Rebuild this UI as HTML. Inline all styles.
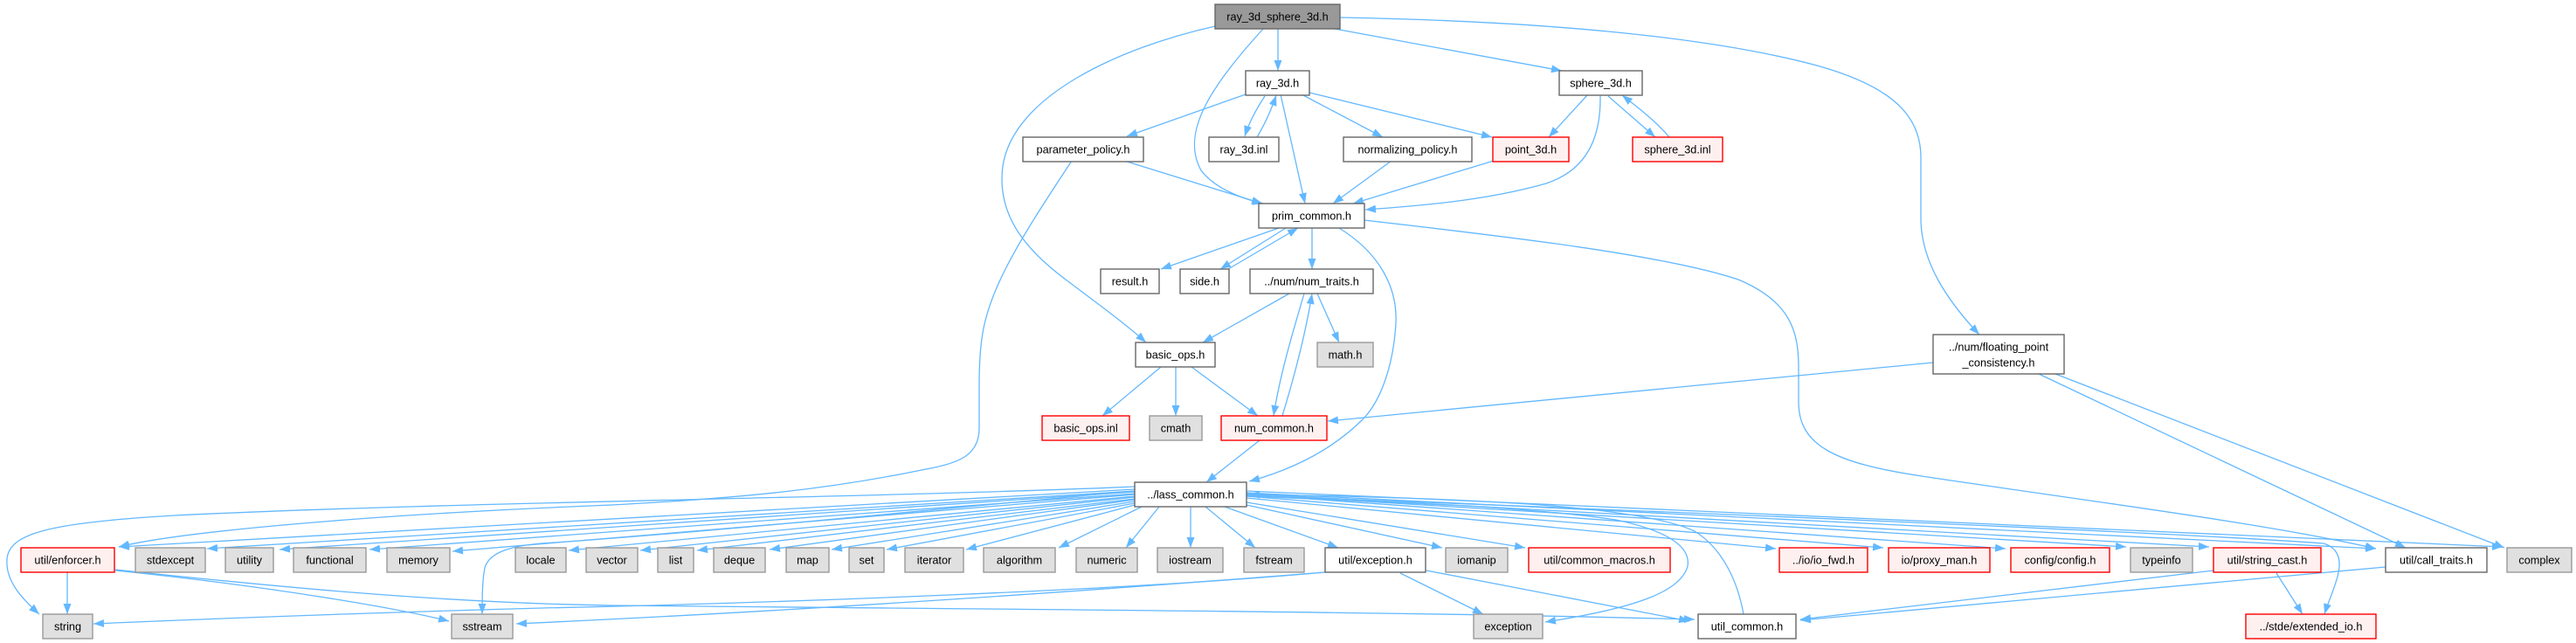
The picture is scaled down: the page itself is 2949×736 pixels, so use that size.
<!DOCTYPE html>
<html><head><meta charset="utf-8"><style>
html,body{margin:0;padding:0;background:#fff;}
svg{display:block;}
text{font-family:"Liberation Sans",Arial,sans-serif;font-size:12.7px;fill:#000;text-anchor:middle;}
.w{fill:#fff;stroke:#666;stroke-width:1.4}
.g{fill:#e0e0e0;stroke:#999;stroke-width:1.4}
.r{fill:#fff0f0;stroke:#f00;stroke-width:1.4}
.d{fill:#999;stroke:#666;stroke-width:1.4}
.e path{fill:none;stroke:#63b8ff;stroke-width:1.3;marker-end:url(#a)}
</style></head><body>
<svg width="2949" height="736" viewBox="0 0 2949 736" xmlns="http://www.w3.org/2000/svg">
<defs><marker id="a" markerWidth="13" markerHeight="10" refX="12" refY="5" orient="auto" markerUnits="userSpaceOnUse"><path d="M0,0.5 L12,5 L0,9.5 z" fill="#63b8ff"/></marker></defs>
<g class="e">
<path d="M1463,33 L1463,81"/>
<path d="M1528,33 L1788,81"/>
<path d="M1446,33 C1390,95 1350,150 1375,195 C1390,215 1420,227 1446,233"/>
<path d="M1391,30 C1280,55 1160,110 1148,190 C1140,250 1180,290 1220,320 C1260,350 1290,372 1312,392"/>
<path d="M1534,20 C1750,24 1950,40 2080,75 C2170,100 2199,135 2199,180 L2199,250 C2199,300 2230,345 2266,383"/>
<path d="M1426,108 L1290,156"/>
<path d="M1448,110 C1438,125 1430,140 1425,156"/>
<path d="M1439,157 C1448,142 1455,127 1461,109"/>
<path d="M1466,108 L1494,233"/>
<path d="M1490,108 L1583,157"/>
<path d="M1499,106 L1708,157"/>
<path d="M1817,109 L1773,157"/>
<path d="M1832,109 C1833,160 1815,195 1770,210 C1700,230 1620,236 1563,240"/>
<path d="M1841,110 L1895,157"/>
<path d="M1911,157 C1895,138 1875,123 1857,109"/>
<path d="M1287,184 L1445,233"/>
<path d="M1227,184 C1200,225 1170,270 1150,310 C1125,360 1121,390 1121,440 L1121,490 C1121,520 1100,530 1060,537 C950,560 850,570 700,578 C400,590 200,610 136,626"/>
<path d="M1593,184 L1526,233"/>
<path d="M1710,184 L1549,233"/>
<path d="M1464,261 L1329,308"/>
<path d="M1472,261 L1397,308"/>
<path d="M1406,308 L1486,261"/>
<path d="M1502,261 L1502,308"/>
<path d="M1533,261 C1580,290 1600,330 1598,370 C1595,420 1580,460 1560,480 C1520,520 1470,540 1430,551"/>
<path d="M1562,252 C1700,268 1900,290 1990,320 C2050,345 2059,380 2059,420 L2059,460 C2059,510 2100,530 2200,545 C2400,575 2600,600 2720,628"/>
<path d="M1476,336 L1377,392"/>
<path d="M1493,336 C1480,380 1465,430 1458,476"/>
<path d="M1468,476 C1482,430 1495,380 1502,336"/>
<path d="M1508,336 L1533,392"/>
<path d="M1329,420 L1262,476"/>
<path d="M1346,420 L1346,476"/>
<path d="M1364,420 L1440,476"/>
<path d="M2213,415 L1520,482"/>
<path d="M2334,428 L2754,627"/>
<path d="M2353,428 L2867,627"/>
<path d="M1442,504 L1381,552"/>
<path d="M1327,580 L1289,627"/>
<path d="M1363,580 L1363,627"/>
<path d="M1380,580 L1437,627"/>
<path d="M1402,580 L1532,627"/>
<path d="M1427,578 L1651,627"/>
<path d="M1427,575 L1746,627"/>
<path d="M1307,580 L1212,627"/>
<path d="M1299,578 L1106,629"/>
<path d="M1299,576 L1015,629"/>
<path d="M1299,574 L952,629"/>
<path d="M1299,572 L881,629"/>
<path d="M1299,571 L798,630"/>
<path d="M1299,569 L733,630"/>
<path d="M1299,568 L651,630"/>
<path d="M1299,566 L518,631"/>
<path d="M1299,565 L423,629"/>
<path d="M1299,563 L320,629"/>
<path d="M1299,562 L237,628"/>
<path d="M1299,560 L136,626"/>
<path d="M1299,557 C1000,570 500,575 200,590 C60,598 10,610 8,640 C6,665 25,685 45,703"/>
<path d="M1299,562 C1050,585 800,610 620,622 C585,625 560,632 555,650 C552,665 552,685 552,703"/>
<path d="M1427,568 C1600,575 1750,580 1850,595 C1920,610 1935,630 1932,648 C1925,675 1880,695 1769,712"/>
<path d="M1427,570 L2033,628"/>
<path d="M1427,568 L2156,627"/>
<path d="M1427,566 L2296,628"/>
<path d="M1427,566 L2434,626"/>
<path d="M1427,565 L2529,626"/>
<path d="M1427,564 L2720,628"/>
<path d="M1427,562 L2865,626"/>
<path d="M1427,567 C1900,585 2500,610 2660,622 C2680,628 2680,645 2676,660 C2672,675 2665,690 2661,703"/>
<path d="M1996,703 C1990,670 1975,630 1940,608 C1880,580 1700,570 1430,566"/>
<path d="M77,655 L77,703"/>
<path d="M132,653 C300,670 450,695 514,711"/>
<path d="M132,652 C300,670 500,690 700,693 C1200,698 1600,700 1940,709"/>
<path d="M1517,655 C1300,675 900,690 620,696 C400,702 200,710 107,714"/>
<path d="M1517,655 C1200,680 900,700 591,714"/>
<path d="M1603,656 L1698,703"/>
<path d="M1633,653 L1934,711"/>
<path d="M2606,656 L2636,703"/>
<path d="M2534,653 L2061,709"/>
<path d="M2731,649 L2061,710"/>
</g>
<!-- nodes -->
<rect class="d" x="1391" y="5" width="143" height="28"/><text x="1462.5" y="23.5">ray_3d_sphere_3d.h</text>
<rect class="w" x="1426" y="81" width="73" height="28"/><text x="1462.5" y="99.5">ray_3d.h</text>
<rect class="w" x="1785" y="81" width="95" height="28"/><text x="1832.5" y="99.5">sphere_3d.h</text>
<rect class="w" x="1171" y="157" width="138" height="28"/><text x="1240" y="175.5">parameter_policy.h</text>
<rect class="w" x="1384" y="157" width="80" height="28"/><text x="1424" y="175.5">ray_3d.inl</text>
<rect class="w" x="1538" y="157" width="147" height="28"/><text x="1611.5" y="175.5">normalizing_policy.h</text>
<rect class="r" x="1709" y="157" width="87" height="28"/><text x="1752.5" y="175.5">point_3d.h</text>
<rect class="r" x="1869" y="157" width="103" height="28"/><text x="1920.5" y="175.5">sphere_3d.inl</text>
<rect class="w" x="1441" y="233" width="121" height="28"/><text x="1501.5" y="251.5">prim_common.h</text>
<rect class="w" x="1260" y="308" width="67" height="28"/><text x="1293.5" y="326.5">result.h</text>
<rect class="w" x="1351" y="308" width="56" height="28"/><text x="1379" y="326.5">side.h</text>
<rect class="w" x="1431" y="308" width="141" height="28"/><text x="1501.5" y="326.5">../num/num_traits.h</text>
<rect class="w" x="1300" y="392" width="91" height="28"/><text x="1345.5" y="410.5">basic_ops.h</text>
<rect class="g" x="1508" y="392" width="64" height="28"/><text x="1540" y="410.5">math.h</text>
<rect class="w" x="2213" y="383" width="150" height="45"/><text x="2288" y="401.5">../num/floating_point</text><text x="2288" y="419.5">_consistency.h</text>
<rect class="r" x="1193" y="476" width="100" height="28"/><text x="1243" y="494.5">basic_ops.inl</text>
<rect class="g" x="1316" y="476" width="60" height="28"/><text x="1346" y="494.5">cmath</text>
<rect class="r" x="1398" y="476" width="121" height="28"/><text x="1458.5" y="494.5">num_common.h</text>
<rect class="w" x="1299" y="552" width="128" height="28"/><text x="1363" y="570.5">../lass_common.h</text>
<!-- row 9 -->
<rect class="r" x="24" y="627" width="107" height="28"/><text x="77.5" y="645.5">util/enforcer.h</text>
<rect class="g" x="155" y="627" width="80" height="28"/><text x="195" y="645.5">stdexcept</text>
<rect class="g" x="258" y="627" width="55" height="28"/><text x="285.5" y="645.5">utility</text>
<rect class="g" x="336" y="627" width="83" height="28"/><text x="377.5" y="645.5">functional</text>
<rect class="g" x="443" y="627" width="72" height="28"/><text x="479" y="645.5">memory</text>
<rect class="g" x="590" y="627" width="58" height="28"/><text x="619" y="645.5">locale</text>
<rect class="g" x="671" y="627" width="59" height="28"/><text x="700.5" y="645.5">vector</text>
<rect class="g" x="753" y="627" width="41" height="28"/><text x="773.5" y="645.5">list</text>
<rect class="g" x="817" y="627" width="59" height="28"/><text x="846.5" y="645.5">deque</text>
<rect class="g" x="900" y="627" width="49" height="28"/><text x="924.5" y="645.5">map</text>
<rect class="g" x="972" y="627" width="40" height="28"/><text x="992" y="645.5">set</text>
<rect class="g" x="1036" y="627" width="67" height="28"/><text x="1069.5" y="645.5">iterator</text>
<rect class="g" x="1126" y="627" width="82" height="28"/><text x="1167" y="645.5">algorithm</text>
<rect class="g" x="1232" y="627" width="70" height="28"/><text x="1267" y="645.5">numeric</text>
<rect class="g" x="1325" y="627" width="75" height="28"/><text x="1362.5" y="645.5">iostream</text>
<rect class="g" x="1424" y="627" width="69" height="28"/><text x="1458.5" y="645.5">fstream</text>
<rect class="w" x="1517" y="627" width="115" height="28"/><text x="1574.5" y="645.5">util/exception.h</text>
<rect class="g" x="1655" y="627" width="71" height="28"/><text x="1690.5" y="645.5">iomanip</text>
<rect class="r" x="1750" y="627" width="162" height="28"/><text x="1831" y="645.5">util/common_macros.h</text>
<rect class="r" x="2037" y="627" width="101" height="28"/><text x="2087.5" y="645.5">../io/io_fwd.h</text>
<rect class="r" x="2162" y="627" width="116" height="28"/><text x="2220" y="645.5">io/proxy_man.h</text>
<rect class="r" x="2302" y="627" width="113" height="28"/><text x="2358.5" y="645.5">config/config.h</text>
<rect class="g" x="2439" y="627" width="71" height="28"/><text x="2474.5" y="645.5">typeinfo</text>
<rect class="r" x="2534" y="627" width="123" height="28"/><text x="2595.5" y="645.5">util/string_cast.h</text>
<rect class="w" x="2731" y="627" width="116" height="28"/><text x="2789" y="645.5">util/call_traits.h</text>
<rect class="g" x="2870" y="627" width="74" height="28"/><text x="2907" y="645.5">complex</text>
<!-- row 10 -->
<rect class="g" x="49" y="703" width="57" height="28"/><text x="77.5" y="721.5">string</text>
<rect class="g" x="517" y="703" width="70" height="28"/><text x="552" y="721.5">sstream</text>
<rect class="g" x="1687" y="703" width="79" height="28"/><text x="1726.5" y="721.5">exception</text>
<rect class="w" x="1944" y="703" width="112" height="28"/><text x="2000" y="721.5">util_common.h</text>
<rect class="r" x="2571" y="703" width="149" height="28"/><text x="2645.5" y="721.5">../stde/extended_io.h</text>
</svg>
</body></html>
